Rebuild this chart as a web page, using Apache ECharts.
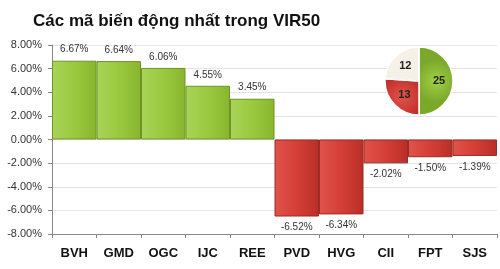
<!DOCTYPE html>
<html><head><meta charset="utf-8">
<script src="https://cdn.jsdelivr.net/npm/echarts@6/dist/echarts.min.js"></script>
<style>html,body{margin:0;padding:0;background:#fff}#c{width:500px;height:269px}</style>
</head><body><div id="c"></div>
<script>
const titleText = "Các mã biến động nhất trong VIR50";
const categories = ["BVH","GMD","OGC","IJC","REE","PVD","HVG","CII","FPT","SJS"];
const values = [6.67, 6.64, 6.06, 4.55, 3.45, -6.52, -6.34, -2.02, -1.50, -1.39];
const yTicks = [-8, -6, -4, -2, 0, 2, 4, 6, 8];
const pieNames = ["Tăng","Giảm","Đứng giá"];
const pieValues = [25, 13, 12];

const green = new echarts.graphic.LinearGradient(0,0,1,0,[{offset:0,color:'#a8d45a'},{offset:0.5,color:'#9bc93e'},{offset:1,color:'#88b52f'}]);
const red = new echarts.graphic.LinearGradient(0,0,1,0,[{offset:0,color:'#e0534b'},{offset:0.5,color:'#d43f37'},{offset:1,color:'#b92e28'}]);

const chart = echarts.init(document.getElementById('c'));
chart.setOption({
  animation:false,
  title:{text:titleText,left:28,top:8,textStyle:{fontFamily:'Liberation Sans',fontWeight:'bold',fontSize:17,color:'#111'}},
  grid:{left:52,right:3,top:45,bottom:35},
  xAxis:[{type:'category',data:categories,position:'bottom',
    axisLine:{show:false},axisTick:{show:false},
    axisLabel:{fontFamily:'Liberation Sans',fontWeight:'bold',fontSize:13,color:'#111',margin:13}},
   {type:'category',data:categories,position:'bottom',
    axisLine:{onZero:true,lineStyle:{color:'#888'}},axisTick:{show:true,length:4,lineStyle:{color:'#888'}},
    axisLabel:{show:false}}],
  yAxis:{type:'value',min:yTicks[0],max:yTicks[yTicks.length-1],interval:2,
    axisLine:{show:true,lineStyle:{color:'#888'}},axisTick:{show:true,length:4,lineStyle:{color:'#888'}},
    splitLine:{lineStyle:{color:'#e4e4e4'}},
    axisLabel:{fontFamily:'Liberation Sans',fontSize:11,color:'#333',margin:10,formatter:v=>v.toFixed(2)+'%'}},
  series:[{type:'bar',data:values.map(v=>({value:v,itemStyle:{color:v>=0?green:red,borderColor:v>=0?'#6f9424':'#9c2a25',borderWidth:1},
      label:{position:v>=0?'top':'bottom'}})),
    barCategoryGap:'0%',
    label:{show:true,fontFamily:'Liberation Sans',fontSize:10,color:'#333',distance:6,formatter:p=>p.value.toFixed(2)+'%'}},
   {type:'pie',center:[419,81],radius:[0,34],startAngle:90,clockwise:true,
    data:pieValues.map((v,i)=>({value:v,name:pieNames[i],itemStyle:{color:[
      new echarts.graphic.RadialGradient(0.5,0.5,0.6,[{offset:0,color:'#a2d045'},{offset:1,color:'#7aa82a'}]),
      new echarts.graphic.RadialGradient(0.5,0.5,0.6,[{offset:0,color:'#e0534b'},{offset:1,color:'#c0302a'}]),
      '#f6f1e6'][i],borderColor:'#fff',borderWidth:1.5}})),
    label:{show:true,position:'inside',formatter:'{c}',fontFamily:'Liberation Sans',fontWeight:'bold',fontSize:11,color:'#222'},
    labelLine:{show:false}}]
});
</script></body></html>
